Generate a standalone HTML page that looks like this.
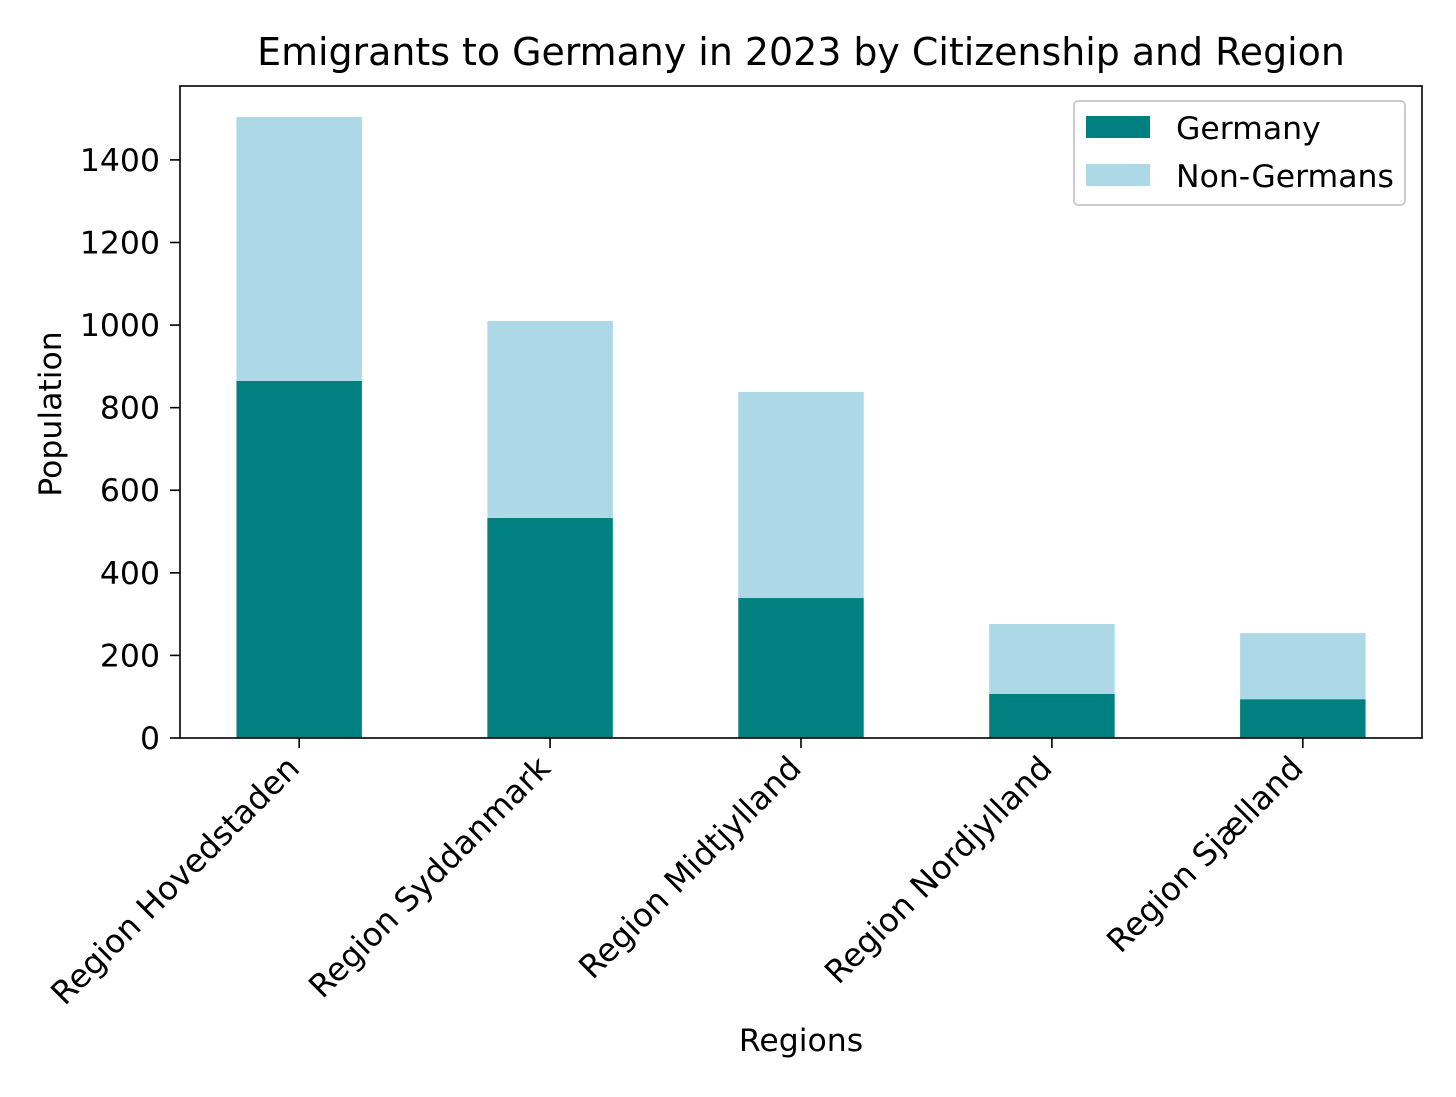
<!DOCTYPE html>
<html><head><meta charset="utf-8"><style>
body{margin:0;background:#fff}
svg text{font-family:"DejaVu Sans","Liberation Sans",sans-serif;fill:#000}
</style></head><body>
<svg id="chart" width="1456" height="1092" viewBox="0 0 1456 1092" xmlns="http://www.w3.org/2000/svg">
<rect width="1456" height="1092" fill="#fff"/>
<text x="801" y="65" font-size="37.9" text-anchor="middle">Emigrants to Germany in 2023 by Citizenship and Region</text>
<g id="bars"></g>
<g id="axes"></g>
<text transform="translate(61,414) rotate(-90)" font-size="31.5" text-anchor="middle">Population</text>
<text x="801" y="1051" font-size="31.5" text-anchor="middle">Regions</text>
<g>
<rect x="1074" y="101" width="331" height="104" rx="4" fill="#fff" stroke="#ccc" stroke-width="2"/>
<rect x="1086" y="116" width="64" height="22" fill="#008080"/>
<text x="1176" y="139" font-size="31.5">Germany</text>
<rect x="1086" y="164" width="64" height="22" fill="#add8e6"/>
<text x="1176" y="187" font-size="31.5">Non-Germans</text>
</g>
</svg>
<script>
const categories = ["Region Hovedstaden","Region Syddanmark","Region Midtjylland","Region Nordjylland","Region Sjælland"];
const germany = [865, 533, 339, 107, 94];
const nonGermans = [639, 477, 499, 169, 160];
const yTicks = [0,200,400,600,800,1000,1200,1400];

const NS = "http://www.w3.org/2000/svg";
const L = 180, R = 1422, T = 86, B = 738;
const xMin = -0.475, xMax = categories.length - 0.525;
const yMax = 1579;
const xS = v => L + (v - xMin) / (xMax - xMin) * (R - L);
const yS = v => B - v / yMax * (B - T);
const bw = 0.5;
function mk(tag, attrs, parent){const e=document.createElementNS(NS,tag);for(const k in attrs)e.setAttribute(k,attrs[k]);parent.appendChild(e);return e;}
const bars = document.getElementById('bars'), axes = document.getElementById('axes');
categories.forEach((c,i)=>{
  const x0 = xS(i - bw/2), w = xS(i + bw/2) - x0;
  const g = mk('rect',{x:x0,y:yS(germany[i]),width:w,height:yS(0)-yS(germany[i]),fill:'#008080'},bars);
  
  
  const top = germany[i] + nonGermans[i];
  const n = mk('rect',{x:x0,y:yS(top),width:w,height:yS(germany[i])-yS(top),fill:'#add8e6'},bars);
  
  
  const tx = xS(i);
  const tk = mk('line',{x1:tx,x2:tx,y1:B,y2:B+10,stroke:'#000','stroke-width':1.6},axes);
  
  
  const t = mk('text',{transform:`translate(${tx+2},${B+32}) rotate(-45)`,'font-size':32.3,'text-anchor':'end'},axes);
  
  
  t.textContent = c;
});
yTicks.forEach(v=>{
  const y = yS(v);
  const tk = mk('line',{x1:L-10,x2:L,y1:y,y2:y,stroke:'#000','stroke-width':1.6},axes);
  
  
  const t = mk('text',{x:L-20,y:y+11,'font-size':31.5,'text-anchor':'end'},axes);
  
  
  t.textContent = v;
});
const frame = mk('rect',{x:L,y:T,width:R-L,height:B-T,fill:'none',stroke:'#000','stroke-width':1.6},axes);


</script>
</body></html>
